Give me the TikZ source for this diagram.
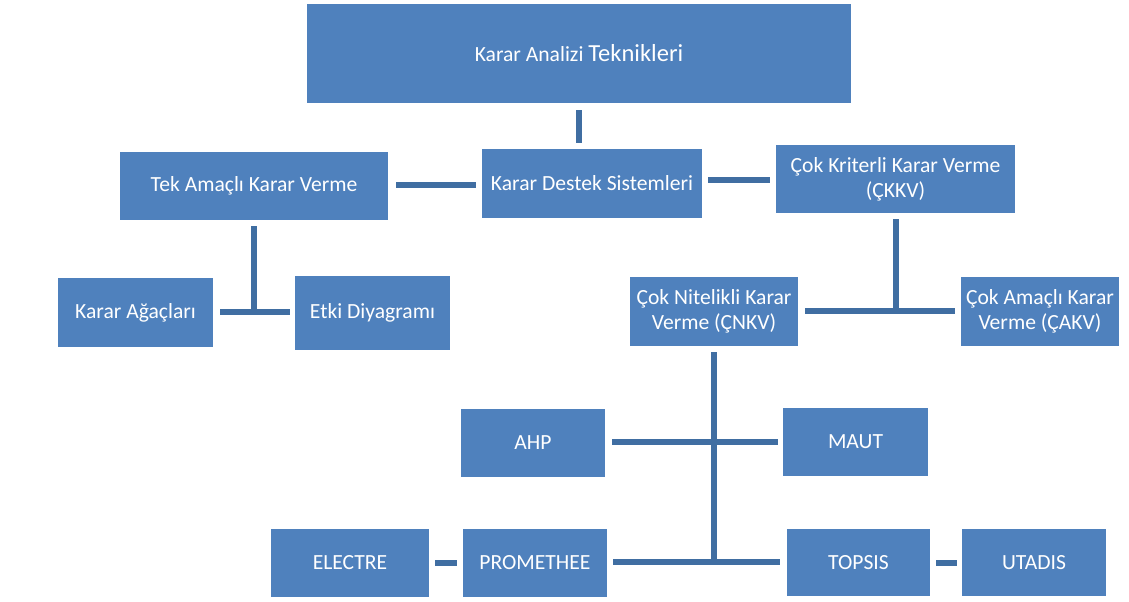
\documentclass[tikz,border=0pt]{standalone}
\usepackage{fontspec}
\setmainfont{Carlito}
\usetikzlibrary{calc}
\definecolor{boxblue}{RGB}{79,129,189}
\definecolor{lineblue}{RGB}{64,110,162}
\tikzset{
  bx/.style 2 args={rectangle, fill=boxblue, draw=none, text=white, align=center,
    inner sep=0pt, minimum width={#1*0.75pt}, minimum height={#2*0.75pt},
    font=\fontsize{16.2}{18.8}\selectfont},
  conn/.style={draw=lineblue, line width=4.5pt}
}
\begin{document}
\begin{tikzpicture}[x=0.75pt,y=-0.75pt]
\useasboundingbox[fill=white] (0,0) rectangle (1129,602);
% boxes (centre, width, height)
\node[bx={544}{99}] (top) at (579,53.5) {Karar Analizi {\fontsize{18.4}{18.8}\selectfont Teknikleri}};
\node[bx={220}{69}] (kds) at (592,183.5) {Karar Destek Sistemleri};
\node[bx={268}{68}] (tek) at (254,186) {Tek Amaçlı Karar Verme};
\node[bx={239}{68}] (ckkv) at (895.5,179) {Çok Kriterli Karar Verme\\(ÇKKV)};
\node[bx={155}{69}] (agac) at (135.5,312.5) {Karar Ağaçları};
\node[bx={155}{74}] (etki) at (372.5,313) {Etki Diyagramı};
\node[bx={168}{69}] (cnkv) at (714,311.5) {Çok Nitelikli Karar\\Verme (ÇNKV)};
\node[bx={158}{69}] (cakv) at (1040,311.5) {Çok Amaçlı Karar\\Verme (ÇAKV)};
\node[bx={144}{68}] (ahp) at (533,443) {AHP};
\node[bx={145}{68}] (maut) at (855.5,442) {MAUT};
\node[bx={158}{68}] (electre) at (350,563) {ELECTRE};
\node[bx={144}{68}] (prom) at (535,563) {PROMETHEE};
\node[bx={143}{67}] (topsis) at (858.5,562.5) {TOPSIS};
\node[bx={144}{67}] (utadis) at (1034,562.5) {UTADIS};
% connectors
\draw[conn] ($(top.south)+(0,7)$) -- ($(top.south |- kds.north)+(0,-6)$);
\coordinate (a1) at ($(tek.east)+(8,-1)$);
\draw[conn] (a1) -- (a1 -| {$(kds.west)+(-6,0)$});
\coordinate (a2) at ($(kds.east)+(6,-3.5)$);
\draw[conn] (a2) -- (a2 -| {$(ckkv.west)+(-6,0)$});
% Tek Amacli subtree
\coordinate (t1) at ($(tek.south)+(0,6)$);
\coordinate (t2) at (t1 |- agac.east);
\draw[conn] (t1) -- (t2);
\draw[conn] ($(agac.east)+(7,0)$) -- ($(agac.east -| etki.west)+(-5,0)$);
% CKKV subtree
\coordinate (c1) at ($(ckkv.south)+(0,6)$);
\coordinate (c2) at (c1 |- cnkv.east);
\draw[conn] (c1) -- (c2);
\draw[conn] ($(cnkv.east)+(7,0)$) -- ($(cnkv.east -| cakv.west)+(-6,0)$);
% CNKV subtree
\coordinate (n1) at ($(cnkv.south)+(0,6)$);
\coordinate (n2) at (n1 |- prom.east);
\draw[conn] (n1) -- ($(n2)+(0,-1)$);
\coordinate (h1) at ($(ahp.east)+(7,-1)$);
\draw[conn] (h1) -- (h1 -| {$(maut.west)+(-5,0)$});
\coordinate (h2) at ($(prom.east)+(6,-1)$);
\draw[conn] (h2) -- (h2 -| {$(topsis.west)+(-7,0)$});
\draw[conn] ($(electre.east)+(6,0)$) -- ($(electre.east -| prom.west)+(-6,0)$);
\draw[conn] ($(topsis.east)+(6,0)$) -- ($(topsis.east -| utadis.west)+(-5,0)$);
\end{tikzpicture}
\end{document}
